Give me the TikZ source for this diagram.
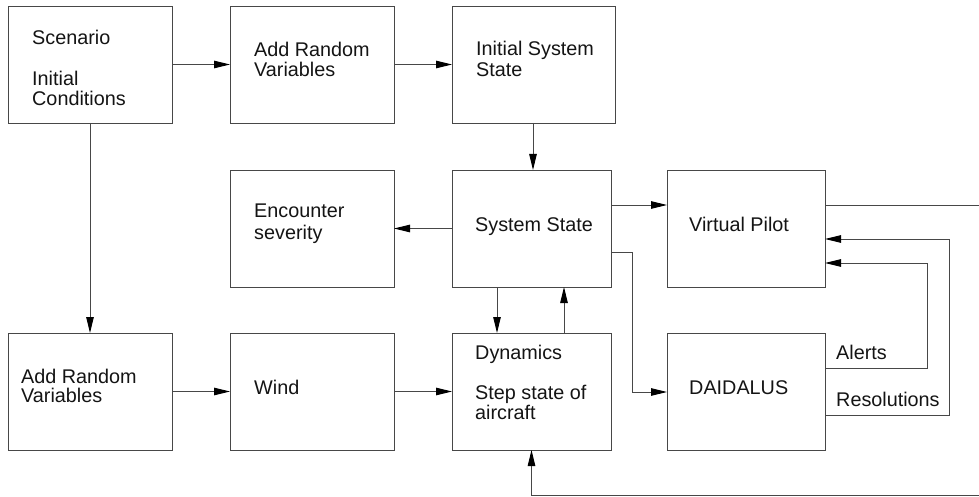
\documentclass[tikz,border=0pt]{standalone}
\usepackage{fontspec}
\setmainfont{Liberation Sans}
\usetikzlibrary{arrows.meta}
\begin{document}
\begin{tikzpicture}[x=1pt,y=-1pt,
  box/.style={draw=black!72, line width=0.9pt, inner sep=0pt, outer sep=0pt, anchor=north west, minimum height=117pt},
  lbl/.style={anchor=base west, inner sep=0pt, font=\fontsize{19.8pt}{20pt}\selectfont, text=black!92},
  conn/.style={draw=black!72, line width=0.9pt},
  arr/.style={conn, -{Triangle[length=16pt,width=7.5pt,color=black]}}]
\useasboundingbox (0,0) rectangle (979,497);
\clip (0,0) rectangle (979,497);
% boxes
\node[box, minimum width=164pt] (scen) at (8,6) {};
\node[box, minimum width=164pt] (addA) at (230,6) {};
\node[box, minimum width=163pt] (init) at (452,6) {};
\node[box, minimum width=164pt] (enc) at (230,170) {};
\node[box, minimum width=159pt] (ss) at (452,170) {};
\node[box, minimum width=158pt] (vp) at (667,170) {};
\node[box, minimum width=164pt] (addB) at (8,333) {};
\node[box, minimum width=164pt] (wind) at (230,333) {};
\node[box, minimum width=159pt] (dyn) at (452,333) {};
\node[box, minimum width=158pt] (dai) at (667,333) {};
% texts
\node[lbl] (tScen) at (32,45) {Scenario};
\node[lbl] (tInit1) at (32,86) {Initial};
\node[lbl] (tInit2) at (32,106) {Conditions};
\node[lbl] (tAddA1) at (254,57) {Add Random};
\node[lbl] (tAddA2) at (254,77) {Variables};
\node[lbl] (tIS1) at (476,56) {Initial System};
\node[lbl] (tIS2) at (476,77) {State};
\node[lbl] (tEnc1) at (254,218) {Encounter};
\node[lbl] (tEnc2) at (254,239) {severity};
\node[lbl] (tSS) at (475,231) {System State};
\node[lbl] (tVP) at (689,231) {Virtual Pilot};
\node[lbl] (tAddB1) at (21,383) {Add Random};
\node[lbl] (tAddB2) at (21,402) {Variables};
\node[lbl] (tWind) at (254,394) {Wind};
\node[lbl] (tDyn1) at (475,359) {Dynamics};
\node[lbl] (tDyn2) at (475,399) {Step state of};
\node[lbl] (tDyn3) at (475,419) {aircraft};
\node[lbl] (tDai) at (689,394) {DAIDALUS};
\node[lbl] (tAl) at (836,359) {Alerts};
\node[lbl] (tRes) at (836,406) {Resolutions};
% connectors
\draw[arr] (scen.east) -- (addA.west);
\draw[arr] (addA.east) -- (init.west);
\draw[arr] (init.south -| 533,0) -- (ss.north -| 533,0);
\draw[arr] (ss.west) -- (enc.east);
\draw[arr] (ss.east |- 0,205) -- (vp.west |- 0,205);
\draw[arr] (ss.south -| 497,0) -- (dyn.north -| 497,0);
\draw[arr] (dyn.north -| 564,0) -- (ss.south -| 564,0);
\draw[arr] (ss.east |- 0,252) -- (632,252) -- (632,392) -- (dai.west |- 0,392);
\draw[arr] (dai.east |- 0,368) -- (927,368) -- (927,263) -- (vp.east |- 0,263);
\draw[arr] (dai.east |- 0,415) -- (949,415) -- (949,239) -- (vp.east |- 0,239);
\coordinate (loopR) at (995,205);
\coordinate (loopB) at (995,495.5);
\draw[arr] (vp.east |- 0,205) -- (loopR) -- (loopB) -- (dyn.south |- loopB) -- (dyn.south);
\draw[arr] (scen.south -| 90,0) -- (addB.north -| 90,0);
\draw[arr] (addB.east) -- (wind.west);
\draw[arr] (wind.east) -- (dyn.west);
\end{tikzpicture}
\end{document}
